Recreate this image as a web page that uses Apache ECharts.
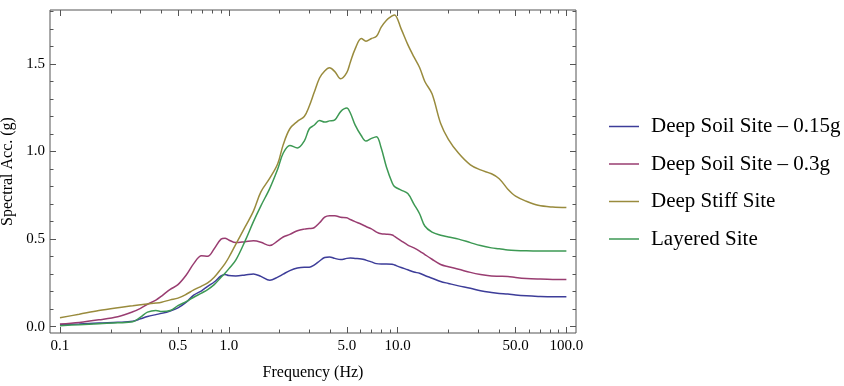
<!DOCTYPE html>
<html>
<head>
<meta charset="utf-8">
<script src="https://cdn.jsdelivr.net/npm/echarts@6/dist/echarts.min.js"></script>
<style>
  html, body { margin: 0; padding: 0; background: #fff; }
  #main { width: 844px; height: 386px; }
</style>
</head>
<body>
<div id="main"></div>
<script>
// frequencies (Hz)
var freq = [0.1, 0.13, 0.17, 0.22, 0.27, 0.3, 0.33, 0.37, 0.4, 0.45, 0.5, 0.56, 0.62, 0.69, 0.75, 0.82, 0.9, 0.95,
    1.0, 1.1, 1.25, 1.4, 1.55, 1.75, 1.95, 2.1, 2.3, 2.55, 2.8, 3.0, 3.2, 3.45, 3.7, 3.95, 4.25, 4.6,
    5.0, 5.25, 5.6, 6.1, 6.5, 7.0, 7.5, 8.0, 8.6, 9.3, 9.6, 10.5, 11.5, 12.5, 13.5, 14.5, 16, 18,
    20, 23, 27, 31, 36, 40, 45, 50, 58, 68, 83, 100];

var deepSoil015 = [0.011, 0.015, 0.021, 0.025, 0.031, 0.045, 0.058, 0.069, 0.076, 0.09, 0.107, 0.14, 0.18, 0.205, 0.23, 0.255, 0.29, 0.298,
    0.292, 0.29, 0.295, 0.301, 0.287, 0.265, 0.283, 0.3, 0.32, 0.335, 0.34, 0.34, 0.352, 0.375, 0.395, 0.398, 0.39, 0.383,
    0.39, 0.392, 0.39, 0.387, 0.38, 0.37, 0.36, 0.358, 0.358, 0.357, 0.352, 0.338, 0.325, 0.312, 0.305, 0.292, 0.277, 0.258,
    0.247, 0.233, 0.22, 0.205, 0.195, 0.19, 0.187, 0.181, 0.176, 0.173, 0.171, 0.171];

var deepSoil03 = [0.015, 0.024, 0.039, 0.057, 0.085, 0.105, 0.128, 0.152, 0.175, 0.213, 0.24, 0.295, 0.36, 0.405, 0.402, 0.445, 0.5, 0.505,
    0.495, 0.48, 0.485, 0.49, 0.482, 0.463, 0.49, 0.512, 0.527, 0.548, 0.557, 0.56, 0.565, 0.593, 0.625, 0.633, 0.633, 0.625,
    0.622, 0.612, 0.6, 0.585, 0.572, 0.558, 0.54, 0.53, 0.528, 0.523, 0.515, 0.49, 0.466, 0.45, 0.432, 0.412, 0.385, 0.355,
    0.342, 0.328, 0.31, 0.298, 0.289, 0.288, 0.287, 0.281, 0.275, 0.272, 0.27, 0.27];

var deepStiff = [0.051, 0.071, 0.092, 0.108, 0.119, 0.125, 0.13, 0.135, 0.14, 0.153, 0.163, 0.185, 0.21, 0.232, 0.25, 0.282, 0.33, 0.36,
    0.395, 0.47, 0.57, 0.66, 0.77, 0.848, 0.93, 1.038, 1.13, 1.172, 1.2, 1.26, 1.335, 1.42, 1.46, 1.478, 1.456, 1.415,
    1.45, 1.51, 1.585, 1.645, 1.63, 1.645, 1.658, 1.71, 1.75, 1.775, 1.78, 1.7, 1.61, 1.54, 1.48, 1.4, 1.33, 1.16,
    1.07, 0.99, 0.924, 0.895, 0.873, 0.845, 0.785, 0.745, 0.716, 0.693, 0.683, 0.68];

var layered = [0.006, 0.011, 0.017, 0.022, 0.028, 0.055, 0.083, 0.093, 0.087, 0.092, 0.12, 0.143, 0.168, 0.192, 0.212, 0.24, 0.282, 0.305,
    0.33, 0.38, 0.49, 0.6, 0.69, 0.79, 0.9, 0.99, 1.035, 1.02, 1.06, 1.13, 1.15, 1.177, 1.168, 1.175, 1.181, 1.228,
    1.248, 1.22, 1.152, 1.09, 1.06, 1.075, 1.085, 1.02, 0.91, 0.82, 0.8, 0.78, 0.76, 0.7, 0.645, 0.575, 0.54, 0.522,
    0.512, 0.5, 0.48, 0.463, 0.45, 0.445, 0.438, 0.435, 0.433, 0.432, 0.432, 0.432];

var seriesNames = ['Deep Soil Site – 0.15g', 'Deep Soil Site – 0.3g', 'Deep Stiff Site', 'Layered Site'];
var colors = ['#3d3d99', '#993d71', '#998b3d', '#3d9954'];

// ticks
var xMajor = [0.1, 0.5, 1, 5, 10, 50, 100];
var xMinor = [0.2, 0.3, 0.4, 0.6, 0.7, 0.8, 0.9, 2, 3, 4, 6, 7, 8, 9, 20, 30, 40, 60, 70, 80, 90];
var yMajor = [0, 0.5, 1.0, 1.5];
var yMinor = [0.1, 0.2, 0.3, 0.4, 0.6, 0.7, 0.8, 0.9, 1.1, 1.2, 1.3, 1.4, 1.6, 1.7, 1.8];

var font = '"Liberation Serif", "Times New Roman", serif';
var tickColor = '#555';

var chart = echarts.init(document.getElementById('main'));

// x is plotted as log10(f)
var xMin = -1.059, xMax = 2.057;
var yMin = -0.036, yMax = 1.808;

function lg(arr) { return arr.map(function (v) { return Math.log10(v); }); }

function xAxisDef(pos, ticks, len, labels) {
    return {
        type: 'value', position: pos, min: xMin, max: xMax,
        axisLine: { show: false, onZero: false }, splitLine: { show: false },
        axisTick: { show: true, inside: true, length: len, customValues: lg(ticks), lineStyle: { color: tickColor } },
        axisLabel: labels ? {
            show: true, customValues: lg(ticks), margin: 6,
            fontFamily: font, fontSize: 15, color: '#000',
            formatter: function (v) { return Math.pow(10, v).toFixed(1); }
        } : { show: false }
    };
}
function yAxisDef(pos, ticks, len, labels) {
    return {
        type: 'value', position: pos, min: yMin, max: yMax,
        axisLine: { show: false, onZero: false }, splitLine: { show: false },
        axisTick: { show: true, inside: true, length: len, customValues: ticks, lineStyle: { color: tickColor } },
        axisLabel: labels ? {
            show: true, customValues: ticks, margin: 5,
            fontFamily: font, fontSize: 15, color: '#000',
            formatter: function (v) { return v.toFixed(1); }
        } : { show: false }
    };
}

var xs = [xAxisDef('bottom', xMajor, 6, true), xAxisDef('bottom', xMinor, 3.5, false),
          xAxisDef('top', xMajor, 6, false), xAxisDef('top', xMinor, 3.5, false)];
xs[0].name = 'Frequency (Hz)';
xs[0].nameLocation = 'middle';
xs[0].nameGap = 32;
xs[0].nameTextStyle = { fontFamily: font, fontSize: 16, color: '#000' };

var ys = [yAxisDef('left', yMajor, 6, true), yAxisDef('left', yMinor, 3.5, false),
          yAxisDef('right', yMajor, 6, false), yAxisDef('right', yMinor, 3.5, false)];
ys[0].name = 'Spectral Acc. (g)';
ys[0].nameLocation = 'middle';
ys[0].nameGap = 32;
ys[0].nameTextStyle = { fontFamily: font, fontSize: 16, color: '#000' };

var allValues = [deepSoil015, deepSoil03, deepStiff, layered];
var series = allValues.map(function (vals, k) {
    return {
        name: seriesNames[k],
        type: 'line',
        xAxisIndex: 0, yAxisIndex: 0,
        showSymbol: false, symbol: 'none',
        smooth: 0.35,
        lineStyle: { color: colors[k], width: 1.5 },
        itemStyle: { color: colors[k] },
        data: freq.map(function (f, i) { return [Math.log10(f), vals[i]]; })
    };
});

var option = {
    animation: false,
    backgroundColor: '#fff',
    grid: {
        left: 50, right: 268, top: 10, bottom: 53,
        containLabel: false, outerBoundsMode: 'none',
        show: true, borderColor: tickColor, borderWidth: 1
    },
    legend: {
        orient: 'vertical',
        left: 604, top: 111,
        icon: 'rect',
        itemWidth: 30, itemHeight: 1.5, itemGap: 16.5,
        data: seriesNames,
        textStyle: { fontFamily: font, fontSize: 21, color: '#000', lineHeight: 20, padding: [0, 0, 0, 7] }
    },
    xAxis: xs,
    yAxis: ys,
    series: series
};

chart.setOption(option);
</script>
</body>
</html>
